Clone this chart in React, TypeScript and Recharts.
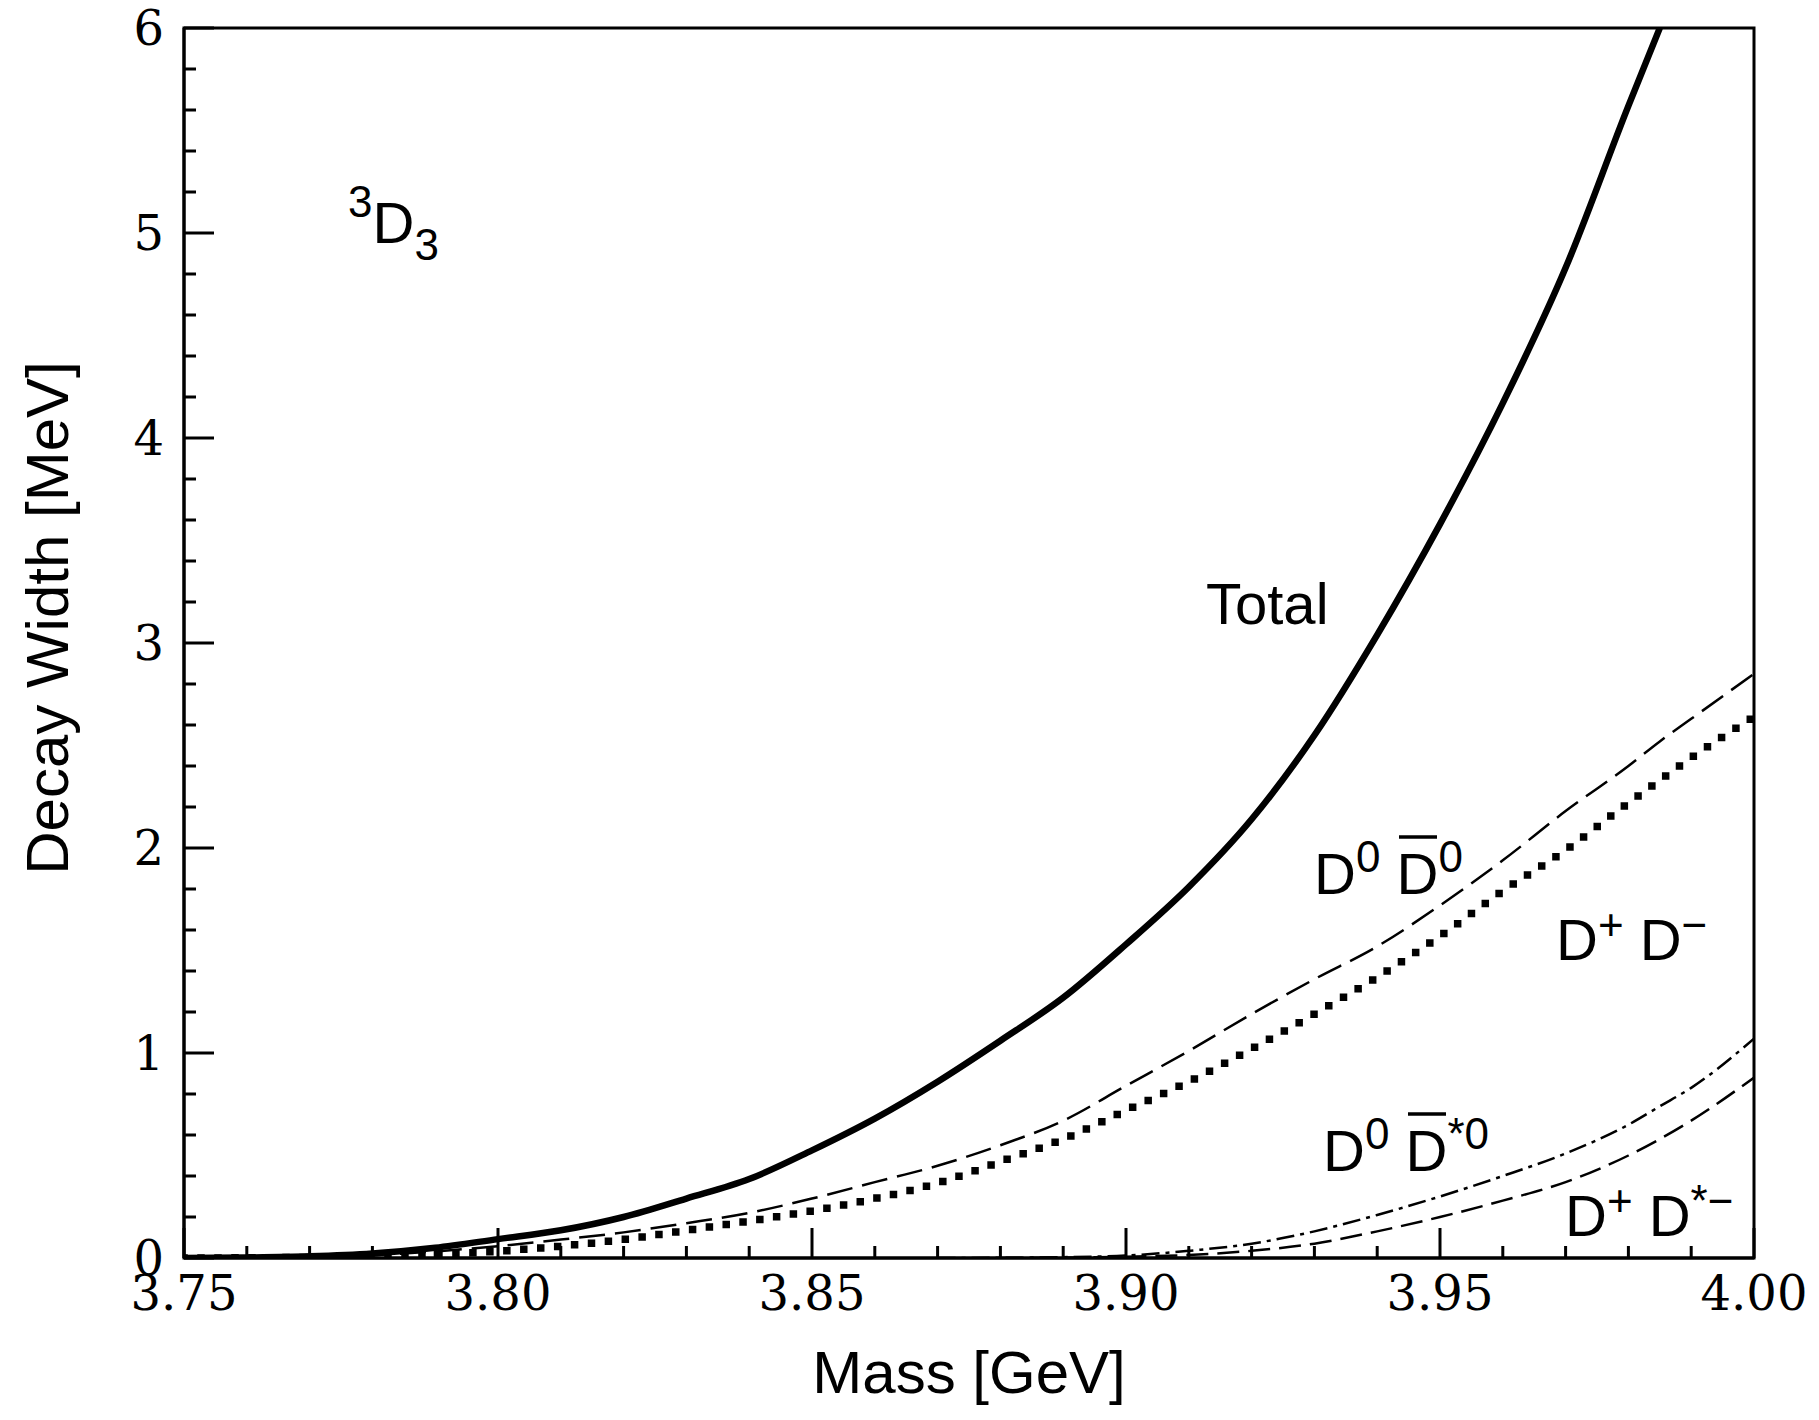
import { LineChart, Line, XAxis, YAxis, ReferenceArea } from "recharts";

// mass points [GeV]
const mass = [
  3.75, 3.76, 3.77, 3.78, 3.79, 3.8, 3.81, 3.82, 3.83, 3.84, 3.85, 3.86, 3.87,
  3.88, 3.89, 3.9, 3.91, 3.92, 3.93, 3.94, 3.95, 3.96, 3.97, 3.98, 3.985,
  3.99, 4.0,
];

// decay widths [MeV]
const total = [
  0, 0.002, 0.008, 0.022, 0.05, 0.092, 0.135, 0.2, 0.29, 0.385, 0.525, 0.68,
  0.86, 1.06, 1.27, 1.53, 1.81, 2.14, 2.55, 3.04, 3.58, 4.17, 4.83, 5.62, 6.0,
  null, null,
];
const d0d0bar = [
  0, 0.001, 0.005, 0.014, 0.032, 0.058, 0.09, 0.125, 0.17, 0.22, 0.29, 0.37,
  0.45, 0.55, 0.67, 0.84, 1.01, 1.19, 1.36, 1.52, 1.72, 1.94, 2.18, 2.4, 2.52,
  2.63, 2.85,
];
const dplusdminus = [
  0, 0.001, 0.003, 0.008, 0.018, 0.033, 0.058, 0.09, 0.135, 0.18, 0.23, 0.29,
  0.365, 0.47, 0.58, 0.72, 0.86, 1.02, 1.19, 1.37, 1.57, 1.79, 1.99, 2.22,
  2.33, 2.44, 2.64,
];
const d0dstar0bar = [
  null, null, null, null, null, null, null, null, null, null, null, null, 0,
  0.001, 0.004, 0.012, 0.035, 0.07, 0.13, 0.21, 0.3, 0.4, 0.51, 0.65, 0.74,
  0.83, 1.07,
];
const dplusdstarminus = [
  null, null, null, null, null, null, null, null, null, null, null, null, null,
  0, 0.002, 0.006, 0.015, 0.035, 0.07, 0.13, 0.2, 0.28, 0.37, 0.5, 0.58, 0.67,
  0.88,
];

const massTicks = [
  3.75, 3.76, 3.77, 3.78, 3.79, 3.8, 3.81, 3.82, 3.83, 3.84, 3.85, 3.86, 3.87,
  3.88, 3.89, 3.9, 3.91, 3.92, 3.93, 3.94, 3.95, 3.96, 3.97, 3.98, 3.99, 4.0,
];
const widthTicks = [
  0, 0.2, 0.4, 0.6, 0.8, 1, 1.2, 1.4, 1.6, 1.8, 2, 2.2, 2.4, 2.6, 2.8, 3, 3.2,
  3.4, 3.6, 3.8, 4, 4.2, 4.4, 4.6, 4.8, 5, 5.2, 5.4, 5.6, 5.8, 6,
];

const data = mass.map((m, i) => ({
  mass: m,
  total: total[i],
  d0d0bar: d0d0bar[i],
  dplusdminus: dplusdminus[i],
  d0dstar0bar: d0dstar0bar[i],
  dplusdstarminus: dplusdstarminus[i],
}));

const SERIF = "'DejaVu Serif', serif";
const SANS = "'Liberation Sans', Arial, sans-serif";

function XTick(props: any) {
  const { x, y, payload } = props;
  const v = payload.value;
  const major = Math.round(v * 100) % 5 === 0;
  return (
    <g>
      <line x1={x} x2={x} y1={y} y2={y - (major ? 30 : 12)} stroke="#000" strokeWidth={3} />
      {major && (
        <text x={x} y={y + 52} textAnchor="middle" fontFamily={SERIF} fontSize={48} fill="#000">
          {v.toFixed(2)}
        </text>
      )}
    </g>
  );
}

function YTick(props: any) {
  const { x, y, payload } = props;
  const v = payload.value;
  const major = Math.abs(v - Math.round(v)) < 1e-6;
  return (
    <g>
      <line x1={x} x2={x + (major ? 30 : 12)} y1={y} y2={y} stroke="#000" strokeWidth={3} />
      {major && (
        <text x={x - 20} y={y} dy="0.36em" textAnchor="end" fontFamily={SERIF} fontSize={48} fill="#000">
          {Math.round(v)}
        </text>
      )}
    </g>
  );
}

const sup = { fontSize: 44 };

export default function App() {
  return (
    <div style={{ position: "relative", width: 1803, height: 1400 }}>
      <LineChart
        width={1803}
        height={1400}
        data={data}
        margin={{ top: 20, right: 57, bottom: 50, left: 76 }}
      >
        <XAxis
          dataKey="mass"
          type="number"
          domain={[3.75, 4.0]}
          ticks={massTicks}
          interval={0}
          tickSize={0}
          tickMargin={0}
          tickLine={false}
          tick={<XTick />}
          axisLine={{ stroke: "#000", strokeWidth: 3 }}
          height={100}
          allowDataOverflow
        />
        <YAxis
          type="number"
          domain={[0, 6]}
          ticks={widthTicks}
          interval={0}
          tickSize={0}
          tickMargin={0}
          tickLine={false}
          tick={<YTick />}
          axisLine={{ stroke: "#000", strokeWidth: 3 }}
          width={100}
          allowDataOverflow
        />
        <ReferenceArea x1={3.75} x2={4.0} y1={0} y2={6} fill="none" stroke="#000" strokeWidth={3} />
        <Line dataKey="d0d0bar" type="monotone" stroke="#000" strokeWidth={2.5} strokeDasharray="26 10" dot={false} isAnimationActive={false} />
        <Line dataKey="dplusdminus" type="monotone" stroke="#000" strokeWidth={7.5} strokeDasharray="0 17" strokeLinecap="square" dot={false} isAnimationActive={false} />
        <Line dataKey="d0dstar0bar" type="monotone" stroke="#000" strokeWidth={2.5} strokeDasharray="18 6 4 6" dot={false} isAnimationActive={false} />
        <Line dataKey="dplusdstarminus" type="monotone" stroke="#000" strokeWidth={2.5} strokeDasharray="22 9" dot={false} isAnimationActive={false} />
        <Line dataKey="total" type="monotone" stroke="#000" strokeWidth={6.5} dot={false} isAnimationActive={false} />
      </LineChart>

      <svg
        width={1803}
        height={1400}
        style={{ position: "absolute", left: 0, top: 0, pointerEvents: "none" }}
        fontFamily={SANS}
        fill="#000"
      >
        <text x={961} y={1385} textAnchor="middle" fontSize={60}>
          Mass [GeV]
        </text>
        <text x={60} y={610} textAnchor="middle" fontSize={60} transform="rotate(-90 60 610)">
          Decay Width [MeV]
        </text>

        <text x={340} y={235} fontSize={58}>
          <tspan dy={-26} fontSize={44}>3</tspan>
          <tspan dy={26}>D</tspan>
          <tspan dy={17} fontSize={44}>3</tspan>
        </text>

        <text x={1198} y={616} fontSize={58}>Total</text>

        <text x={1306} y={886} fontSize={58}>
          D<tspan dy={-22} {...sup}>0</tspan>
          <tspan dy={22}> D</tspan>
          <tspan dy={-22} {...sup}>0</tspan>
        </text>
        <line x1={1391} x2={1429} y1={829} y2={829} stroke="#000" strokeWidth={3.5} />

        <text x={1548} y={952} fontSize={58}>
          D<tspan dy={-20} {...sup}>+</tspan>
          <tspan dy={20}> D</tspan>
          <tspan dy={-20} {...sup}>−</tspan>
        </text>

        <text x={1315} y={1163} fontSize={58}>
          D<tspan dy={-22} {...sup}>0</tspan>
          <tspan dy={22}> D</tspan>
          <tspan dy={-22} {...sup}>*0</tspan>
        </text>
        <line x1={1400} x2={1438} y1={1106} y2={1106} stroke="#000" strokeWidth={3.5} />

        <text x={1557} y={1228} fontSize={58}>
          D<tspan dy={-20} {...sup}>+</tspan>
          <tspan dy={20}> D</tspan>
          <tspan dy={-20} {...sup}>*−</tspan>
        </text>
      </svg>
    </div>
  );
}
